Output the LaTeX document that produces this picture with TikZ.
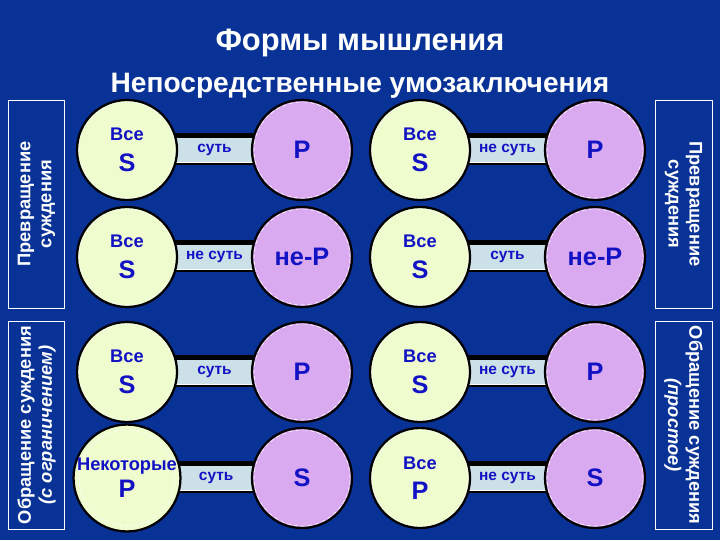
\documentclass[tikz,border=0pt]{standalone}
\usepackage{fontspec}
\setmainfont{Liberation Sans}
\usepackage{xcolor}
\usepackage{tikz}
\usetikzlibrary{positioning}
\definecolor{slide}{RGB}{8,50,150}
\definecolor{subjfill}{RGB}{238,252,206}
\definecolor{predfill}{RGB}{218,170,240}
\definecolor{barfill}{RGB}{204,224,232}
\definecolor{term}{RGB}{18,18,196}
\pgfdeclarelayer{bg}
\pgfsetlayers{bg,main}
\newcommand{\twoterms}[3][8pt]{{\fontsize{13}{15}\selectfont #2}\\[#1]{\fontsize{18}{20}\selectfont #3}}
\tikzstyle{subj} = [circle, minimum size=2.5cm, inner sep=0pt, draw=black, line width=1.6pt, fill=subjfill, text=term, font=\bfseries, align=center, path picture={\draw[white, densely dashed, line width=0.4pt] (path picture bounding box.center) circle (1.2cm);}]
\tikzstyle{pred} = [subj, fill=predfill, font=\bfseries\fontsize{18}{20}\selectfont]
\tikzstyle{barrim} = [line width=0.8cm, black]
\tikzstyle{barbody} = [line width=0.6cm, barfill]
\tikzstyle{barlabel} = [text=term, font=\bfseries\fontsize{11}{12}\selectfont, inner sep=1pt]
\tikzstyle{sidebox} = [draw=white, line width=0.6pt, minimum width=5.2cm, minimum height=1.42cm, text=white, font=\bfseries\fontsize{13}{15}\selectfont, align=center, inner sep=0pt]

\begin{document}
\begin{tikzpicture}[x=0.025cm, y=-0.025cm]
\useasboundingbox (0,0) rectangle (720,540);
\begin{pgfonlayer}{bg}
\fill[slide] (0,0) rectangle (720,540);
\end{pgfonlayer}

% titles
\node (title) [anchor=base, text=white, font=\bfseries\fontsize{22}{24}\selectfont] at (360,50) {Формы мышления};
\node (subtitle) [anchor=base, text=white, font=\bfseries\fontsize{20}{22}\selectfont] at (360,92) {Непосредственные умозаключения};

% side boxes
\node (conv1) [sidebox, rotate=90] at (36.5,204) {Превращение\\суждения};
\node (conv2) [sidebox, rotate=-90] at (683.5,204) {Превращение\\суждения};
\node (inv1) [sidebox, rotate=90] at (36.5,425) {Обращение суждения\\\textit{(с ограничением)}};
\node (inv2) [sidebox, rotate=-90] at (683.5,425) {Обращение суждения\\\textit{(простое)}};

% circles
\node (s1) [subj] at (127,150) {\twoterms{Все}{S}};
\node (p1) [pred] at (302,150) {P};
\node (s2) [subj] at (127,257) {\twoterms{Все}{S}};
\node (p2) [pred] at (302,257) {не-P};
\node (s3) [subj] at (420,150) {\twoterms{Все}{S}};
\node (p3) [pred] at (595,150) {P};
\node (s4) [subj] at (420,257) {\twoterms{Все}{S}};
\node (p4) [pred] at (595,257) {не-P};
\node (s5) [subj] at (127,372) {\twoterms{Все}{S}};
\node (p5) [pred] at (302,372) {P};
\node (s6) [subj] at (127,478) {\twoterms[3pt]{Некоторые}{P}};
\node (p6) [pred] at (302,478) {S};
\node (s7) [subj] at (420,372) {\twoterms{Все}{S}};
\node (p7) [pred] at (595,372) {P};
\node (s8) [subj] at (420,478) {\twoterms{Все}{P}};
\node (p8) [pred] at (595,478) {S};

% copulas
\foreach \a/\b/\t in {s1/p1/суть, s2/p2/не суть, s3/p3/не суть, s4/p4/суть, s5/p5/суть, s6/p6/суть, s7/p7/не суть, s8/p8/не суть} {
  \begin{pgfonlayer}{bg}
  \draw[barrim] ([yshift=0.03cm]\a.center) -- ([yshift=0.03cm]\b.center);
  \draw[barbody] (\a.center) -- (\b.center);
  \draw[white, line width=0.7pt] ([yshift=-0.31cm]\a.center) -- ([yshift=-0.31cm]\b.center);
  \end{pgfonlayer}
  \path (\a) -- node[barlabel] {\t} (\b);
}

\end{tikzpicture}
\end{document}
